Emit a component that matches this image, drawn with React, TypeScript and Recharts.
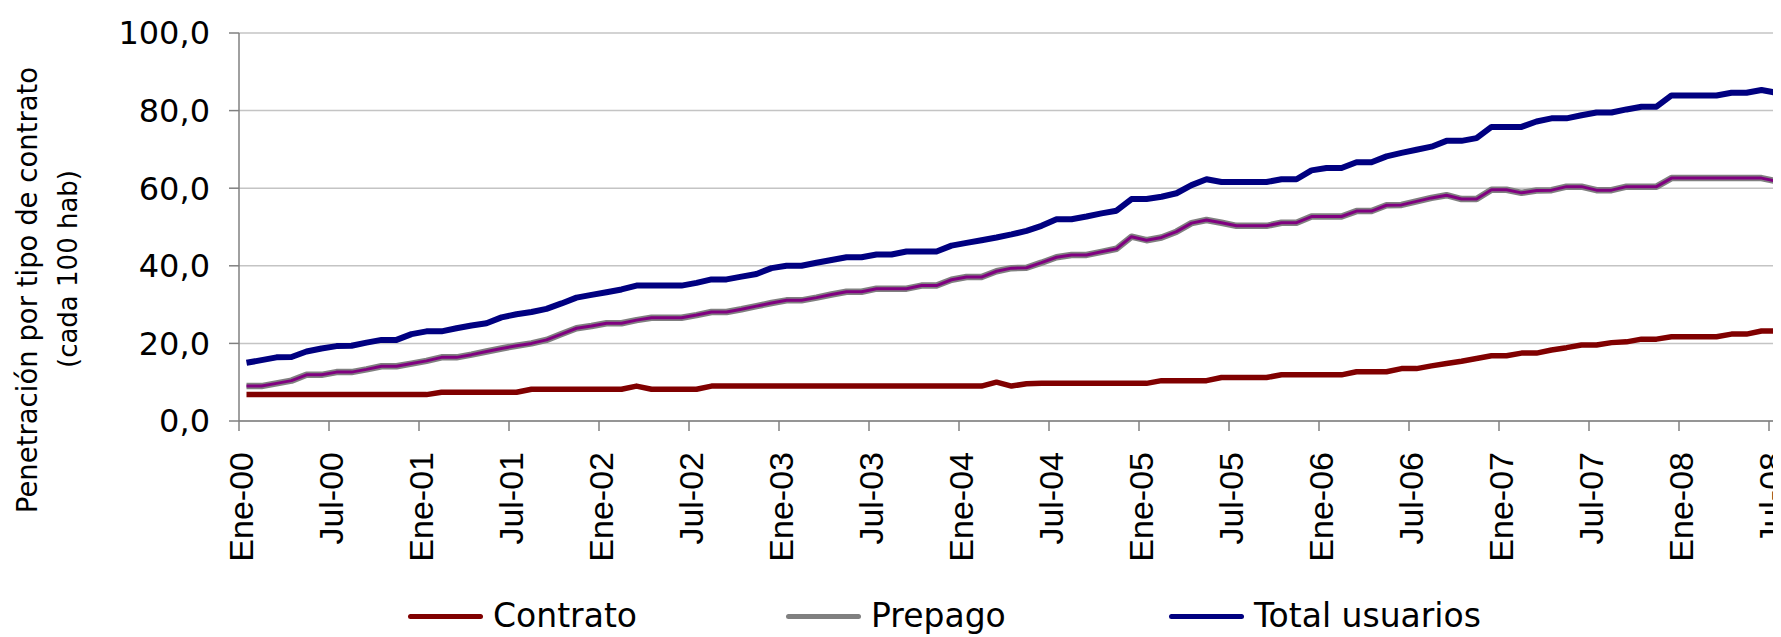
import { LineChart, Line, XAxis, YAxis, CartesianGrid, Legend } from "recharts"

const tickLabels = [
  "Ene-00", "Jul-00", "Ene-01", "Jul-01", "Ene-02", "Jul-02", "Ene-03", "Jul-03", "Ene-04",
  "Jul-04", "Ene-05", "Jul-05", "Ene-06", "Jul-06", "Ene-07", "Jul-07", "Ene-08", "Jul-08",
]

const yTicks = [0, 20, 40, 60, 80, 100]

// monthly values, Ene-00 .. Ago-08
const contrato = [
  6.8, 6.8, 6.8, 6.8, 6.8, 6.8, 6.8, 6.8, 6.8, 6.8, 6.8, 6.8, 6.8,
  7.4, 7.4, 7.4, 7.4, 7.4, 7.4,
  8.2, 8.2, 8.2, 8.2, 8.2, 8.2, 8.2,
  9.0, 8.2, 8.2, 8.2, 8.2,
  9.0, 9.0, 9.0, 9.0, 9.0, 9.0, 9.0, 9.0, 9.0, 9.0, 9.0, 9.0, 9.0, 9.0, 9.0, 9.0, 9.0, 9.0, 9.0,
  10.0, 9.0, 9.6,
  9.7, 9.7, 9.7, 9.7, 9.7, 9.7, 9.7, 9.7,
  10.4, 10.4, 10.4, 10.4,
  11.2, 11.2, 11.2, 11.2,
  11.9, 11.9, 11.9, 11.9, 11.9,
  12.7, 12.7, 12.7,
  13.5, 13.5,
  14.2, 14.8, 15.4,
  16.1, 16.8, 16.8, 17.5, 17.5, 18.3, 18.9, 19.6, 19.6, 20.2, 20.4, 21.1, 21.1,
  21.7, 21.7, 21.7, 21.7, 22.4, 22.4, 23.2, 23.2, 23.2,
]

const prepago = [
  9.0, 9.0, 9.7, 10.4, 11.9, 11.9, 12.6, 12.6, 13.3, 14.1, 14.1, 14.8,
  15.5, 16.4, 16.4, 17.1, 17.9, 18.7, 19.4, 20.0, 20.9, 22.4, 23.9, 24.5,
  25.2, 25.2, 26.0, 26.6, 26.6, 26.6, 27.3, 28.1, 28.1, 28.8, 29.6, 30.4,
  31.1, 31.1, 31.8, 32.6, 33.3, 33.3, 34.1, 34.1, 34.1, 34.9, 34.9, 36.4,
  37.1, 37.1, 38.6, 39.4, 39.5, 40.8, 42.2, 42.8, 42.8, 43.6, 44.4, 47.5,
  46.6, 47.3, 48.8, 51.0, 51.8, 51.1, 50.3, 50.3, 50.3, 51.1, 51.1, 52.7,
  52.7, 52.7, 54.1, 54.1, 55.6, 55.7, 56.6, 57.5, 58.2, 57.2, 57.2, 59.6,
  59.6, 58.8, 59.4, 59.5, 60.4, 60.4, 59.5, 59.5, 60.4, 60.4, 60.4, 62.6,
  62.6, 62.6, 62.6, 62.6, 62.6, 62.6, 61.8, 61.8,
]

const total = [
  15.0, 15.7, 16.4, 16.5, 17.9, 18.7, 19.3, 19.4, 20.2, 20.9, 20.9, 22.4,
  23.1, 23.1, 23.9, 24.6, 25.2, 26.7, 27.5, 28.1, 28.9, 30.3, 31.8, 32.5,
  33.2, 33.9, 34.9, 34.9, 34.9, 34.9, 35.6, 36.5, 36.5, 37.2, 37.9, 39.4,
  40.0, 40.0, 40.8, 41.5, 42.2, 42.2, 42.9, 42.9, 43.7, 43.7, 43.7, 45.2,
  45.9, 46.6, 47.3, 48.1, 49.0, 50.3, 52.0, 52.0, 52.7, 53.5, 54.2, 57.2,
  57.2, 57.8, 58.7, 60.8, 62.3, 61.6, 61.6, 61.6, 61.6, 62.3, 62.3, 64.6,
  65.2, 65.2, 66.7, 66.7, 68.2, 69.1, 69.9, 70.7, 72.2, 72.2, 72.9, 75.8,
  75.8, 75.8, 77.2, 78.0, 78.0, 78.8, 79.5, 79.5, 80.3, 81.0, 81.0, 83.9,
  83.9, 83.9, 83.9, 84.6, 84.6, 85.3, 84.6, 84.6,
]

// each month sits in the middle of its slot, ticks on month boundaries
const data = total.map((t, i) => ({
  x: i + 0.5,
  contrato: contrato[i],
  prepago: prepago[i],
  total: t,
}))

const xTicks = tickLabels.map((_, i) => i * 6)

const legendItems = [
  { label: "Contrato", color: "#800000", left: 400 },
  { label: "Prepago", color: "#808080", left: 778 },
  { label: "Total usuarios", color: "#000080", left: 1161 },
]

const XTick = (props: any) => {
  const { x, y, payload } = props
  return (
    <text
      transform={`translate(${x + 2},${y}) rotate(-90)`}
      textAnchor="end"
      dy="0.36em"
      fontFamily="'Liberation Sans', Arial, sans-serif"
      fontSize={34}
      fill="#000"
    >
      {tickLabels[Math.round(payload.value / 6)]}
    </text>
  )
}

const YTitle = () => (
  <g fontFamily="'DejaVu Sans', sans-serif" fill="#000">
    <text
      transform="translate(19,282) rotate(-90)"
      textAnchor="middle"
      dominantBaseline="central"
      fontSize={27.5}
    >
      Penetración por tipo de contrato
    </text>
    <text
      transform="translate(60,261) rotate(-90)"
      textAnchor="middle"
      dominantBaseline="central"
      fontSize={26}
    >
      (cada 100 hab)
    </text>
  </g>
)

const renderLegend = () => (
  <div style={{ position: "relative", height: 38, width: 1773 }}>
    {legendItems.map((item) => (
      <div
        key={item.label}
        style={{
          position: "absolute",
          left: item.left,
          top: 0,
          height: 38,
          display: "flex",
          alignItems: "center",
          whiteSpace: "nowrap",
        }}
      >
        <span
          style={{ display: "inline-block", width: 75, height: 5, borderRadius: 3, background: item.color }}
        />
        <span
          style={{ marginLeft: 10, fontSize: 33, lineHeight: "38px", fontFamily: "'DejaVu Sans', sans-serif", color: "#000" }}
        >
          {item.label}
        </span>
      </div>
    ))}
  </div>
)

export default function App() {
  return (
    <div style={{ width: 1773, height: 629, fontFamily: "'DejaVu Sans', sans-serif" }}>
      <LineChart width={1773} height={629} data={data} margin={{ top: 25, right: 0, bottom: 0, left: 0 }}>
        <CartesianGrid horizontal vertical={false} stroke="#c4c4c4" strokeWidth={1.5} />
        <XAxis
          dataKey="x"
          type="number"
          domain={[0, 102.8]}
          allowDataOverflow
          ticks={xTicks}
          interval={0}
          tick={<XTick />}
          tickSize={10}
          tickMargin={21}
          height={178}
          axisLine={{ stroke: "#808080", strokeWidth: 1.5 }}
          tickLine={{ stroke: "#808080", strokeWidth: 1.5 }}
        />
        <YAxis
          type="number"
          domain={[0, 100]}
          ticks={yTicks}
          interval={0}
          width={231}
          tickSize={10}
          tickMargin={19}
          tickFormatter={(v: number) => v.toFixed(1).replace(".", ",")}
          tick={{ fill: "#000", fontSize: 32, fontFamily: "'DejaVu Sans', sans-serif" }}
          axisLine={{ stroke: "#808080", strokeWidth: 1.5 }}
          tickLine={{ stroke: "#808080", strokeWidth: 1.5 }}
          label={{ content: () => <YTitle /> }}
        />
        <Legend
          verticalAlign="bottom"
          content={renderLegend}
          wrapperStyle={{ left: 0, width: 1773, top: 589, bottom: "auto", height: 38 }}
        />
        <Line
          type="linear"
          dataKey="contrato"
          name="Contrato"
          stroke="#800000"
          strokeWidth={5.5}
          strokeLinejoin="round"
          dot={false}
          activeDot={false}
          isAnimationActive={false}
        />
        <Line
          type="linear"
          dataKey="prepago"
          name="Prepago"
          stroke="#808080"
          strokeWidth={6.5}
          strokeLinejoin="round"
          dot={false}
          activeDot={false}
          isAnimationActive={false}
        />
        <Line
          type="linear"
          dataKey={(d: any) => d.prepago}
          name="Prepago core"
          stroke="#800080"
          strokeWidth={3}
          strokeLinejoin="round"
          dot={false}
          activeDot={false}
          legendType="none"
          isAnimationActive={false}
        />
        <Line
          type="linear"
          dataKey="total"
          name="Total usuarios"
          stroke="#000080"
          strokeWidth={6}
          strokeLinejoin="round"
          dot={false}
          activeDot={false}
          isAnimationActive={false}
        />
      </LineChart>
    </div>
  )
}
